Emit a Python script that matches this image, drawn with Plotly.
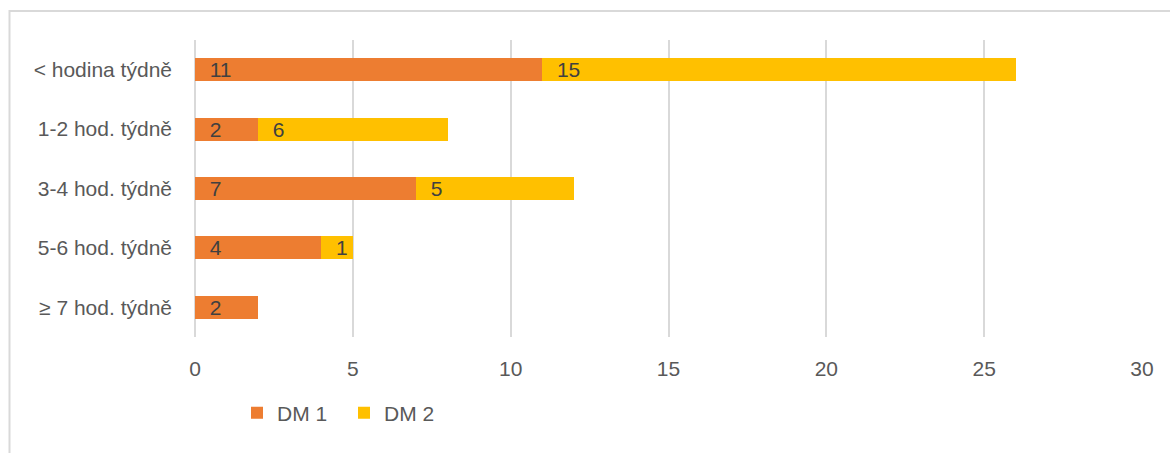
import plotly.graph_objects as go

categories = ["< hodina týdně", "1-2 hod. týdně", "3-4 hod. týdně", "5-6 hod. týdně", "≥ 7 hod. týdně"]
dm1 = [11, 2, 7, 4, 2]
dm2 = [15, 6, 5, 1, 0]
series_names = ["DM 1", "DM 2"]
colors = ["#ED7D31", "#FFC000"]
x_ticks = [0, 5, 10, 15, 20, 25, 30]

W, H = 1170, 453
L, R, T, B = 195, 28, 40, 116
pw, ph = W - L - R, H - T - B

FONT = "Liberation Sans"
FS = 21

fig = go.Figure()
for name, vals, col in zip(series_names, [dm1, dm2], colors):
    fig.add_trace(go.Bar(
        y=categories, x=vals, name=name, orientation="h",
        marker=dict(color=col, line=dict(width=0)),
        text=["  " + str(v) if v else "" for v in vals],
        texttemplate="%{text}",
        textposition="inside", insidetextanchor="start",
        constraintext="none", textangle=0,
        textfont=dict(family=FONT, size=FS, color="#404040"),
        hoverinfo="skip",
    ))

fig.update_layout(
    width=W, height=H, barmode="stack", bargap=0.61,
    margin=dict(l=L, r=R, t=T, b=B, autoexpand=False),
    paper_bgcolor="white", plot_bgcolor="white",
    font=dict(family=FONT, size=FS, color="#595959"),
    xaxis=dict(range=[0, 30], tickvals=x_ticks, showgrid=True, gridcolor="#D9D9D9",
               gridwidth=1.5, zeroline=True, zerolinecolor="#D9D9D9", zerolinewidth=1.5,
               showline=False, ticks="", ticklabelstandoff=17,
               tickfont=dict(family=FONT, size=FS, color="#595959"), fixedrange=True),
    yaxis=dict(categoryorder="array", categoryarray=categories[::-1], autorange=False,
               range=[-0.5, 4.5], showgrid=False, zeroline=False, showline=False, ticks="",
               ticklabelstandoff=22, tickfont=dict(family=FONT, size=FS, color="#595959")),
    legend=dict(orientation="h", x=(237 - L) / pw, xanchor="left", y=(T + ph - 413) / ph,
                yanchor="middle", font=dict(family=FONT, size=FS, color="#595959"),
                traceorder="normal", itemwidth=30, entrywidth=62, entrywidthmode="pixels",
                bgcolor="rgba(0,0,0,0)"),
    showlegend=True,
    shapes=[
        dict(type="rect", xref="paper", yref="paper",
             x0=(9.5 - L) / pw, x1=(W + 5 - L) / pw,
             y0=(T + ph - (H + 10)) / ph, y1=(T + ph - 11) / ph,
             line=dict(color="#D9D9D9", width=2), fillcolor="rgba(0,0,0,0)", layer="below"),
    ],
)

fig.write_html("out.html")
